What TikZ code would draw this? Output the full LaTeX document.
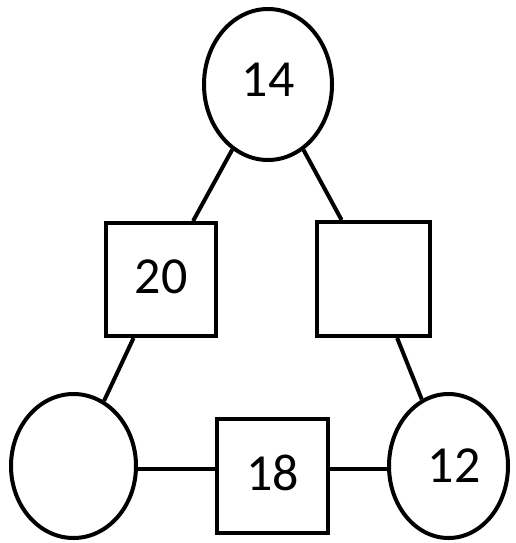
\documentclass[tikz,border=0pt]{standalone}
\usepackage{fontspec}
\setmainfont{Carlito}
\usepackage{tikz}
\usetikzlibrary{shapes.geometric}

\begin{document}
\begin{tikzpicture}[
  x=1pt, y=-1pt,
  font=\fontsize{52}{52}\selectfont,
  line width=4pt,
  disc/.style={draw, ellipse, inner sep=0pt},
  box/.style={draw, rectangle, inner sep=0pt},
  lnk/.style={line width=4pt}
]
\useasboundingbox (0,0) rectangle (515,543);

% corner circles
\node[disc, minimum width=128pt, minimum height=151pt] (top) at (268,84.5) {\raisebox{9pt}{14}};
\node[disc, minimum width=125pt, minimum height=144pt] (cL) at (73.5,466) {};
\node[disc, minimum width=119pt, minimum height=144pt] (cR) at (448.5,466) {\raisebox{-1pt}{\hspace*{11pt}12}};

% squares on the sides
\node[box, minimum width=110pt, minimum height=113pt] (sqL) at (161,279.5) {\raisebox{5pt}{20}};
\node[box, minimum width=113pt, minimum height=114pt] (sqR) at (373.5,279) {};
\node[box, minimum width=111pt, minimum height=114pt] (sqB) at (272.5,476) {\raisebox{6pt}{18}};

\draw[lnk] (top) -- (sqL);
\draw[lnk] (top) -- (sqR);
\draw[lnk] (sqL) -- (cL);
\draw[lnk] (sqR) -- (cR);
\draw[lnk] (cL.-3) -- (cL.-3 -| sqB.west);
\draw[lnk] (cR.183) -- (cR.183 -| sqB.east);
\end{tikzpicture}
\end{document}
